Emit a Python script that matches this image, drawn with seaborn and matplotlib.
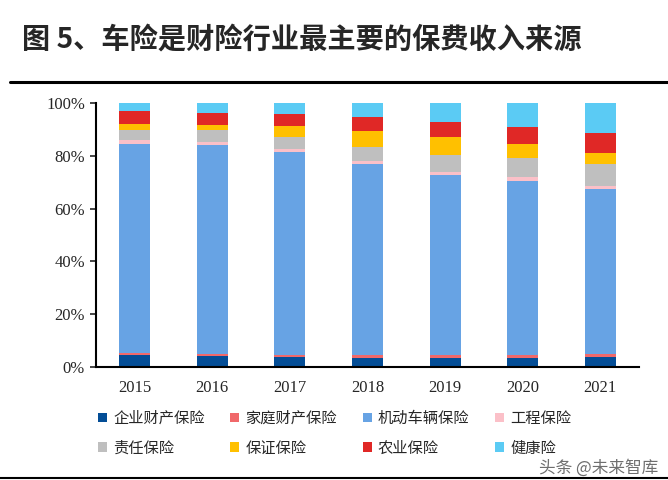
import numpy as np
import pandas as pd
import seaborn as sns
import matplotlib.pyplot as plt
from matplotlib.patches import Patch
from matplotlib.lines import Line2D

# 各险种保费收入占比 (%)
years = ["2015", "2016", "2017", "2018", "2019", "2020", "2021"]
qiye = [4.5, 4.2, 3.8, 3.5, 3.4, 3.5, 3.9]
jiating = [0.8, 0.6, 0.6, 0.9, 1.0, 0.9, 0.9]
jidongche = [79.3, 79.4, 76.9, 72.5, 68.4, 66.1, 62.6]
gongcheng = [1.3, 1.1, 1.1, 1.1, 1.1, 1.3, 1.1]
zeren = [3.8, 4.3, 4.7, 5.4, 6.3, 7.2, 8.3]
baozheng = [2.5, 2.1, 4.1, 5.9, 7.1, 5.5, 4.2]
nongye = [4.8, 4.5, 4.8, 5.3, 5.5, 6.4, 7.7]
jiankang = [3.0, 3.8, 4.0, 5.4, 7.2, 9.1, 11.3]

names = ["企业财产保险", "家庭财产保险", "机动车辆保险", "工程保险",
         "责任保险", "保证保险", "农业保险", "健康险"]
colors = ["#034d96", "#f0686a", "#67a3e4", "#fbc0c8",
          "#bfbfbf", "#ffc000", "#e02826", "#5bcbf4"]

df = pd.DataFrame(dict(zip(names, [qiye, jiating, jidongche, gongcheng,
                                   zeren, baozheng, nongye, jiankang])),
                  index=years)
df = df.div(df.sum(axis=1), axis=0)
cum = df.cumsum(axis=1)

sns.set_style("white")
plt.rcParams['font.family'] = ['Noto Sans CJK SC', 'DejaVu Sans']

fig = plt.figure(figsize=(6.68, 4.8), dpi=100)
ax = fig.add_axes([96 / 668, 1 - 367 / 480, 543 / 668, 264 / 480])

# 叠加柱：从累计最高的系列开始往下画
for name, c in reversed(list(zip(names, colors))):
    sns.barplot(x=years, y=cum[name].values, color=c, width=0.4,
                edgecolor="none", saturation=1, ax=ax)

ax.set_ylim(0, 1)
ax.set_xlim(-0.5, 6.5)
ax.set_yticks(np.arange(0, 1.01, 0.2))
ax.set_yticklabels([f"{int(v * 100)}%" for v in np.arange(0, 1.01, 0.2)])
for lab in ax.get_xticklabels() + ax.get_yticklabels():
    lab.set_family(["Liberation Serif"])
    lab.set_fontsize(12)
ax.tick_params(axis="y", length=4, width=1.2, direction="out", left=True, pad=4)
ax.tick_params(axis="x", length=0, pad=9)
for s in ["top", "right"]:
    ax.spines[s].set_visible(False)
for s in ["left", "bottom"]:
    ax.spines[s].set_color("black")
    ax.spines[s].set_linewidth(1.5)
ax.set_xlabel("")
ax.set_ylabel("")

# 标题与横线
fig.text(22 / 668, 1 - 40 / 480, "图 5、车险是财险行业最主要的保费收入来源",
         fontsize=20.3, fontweight="bold", va="center", ha="left")
fig.add_artist(Line2D([10 / 668, 1], [1 - 82 / 480] * 2, color="black", lw=2.2))
fig.add_artist(Line2D([0, 1], [1 - 478 / 480] * 2, color="black", lw=1.5))

# 图例：按行排列
order = [0, 4, 1, 5, 2, 6, 3, 7]
handles = [Patch(facecolor=colors[i], edgecolor="none") for i in order]
labels = [names[i] for i in order]
fig.legend(handles, labels, ncol=4, loc="upper left",
           bbox_to_anchor=(84 / 668, 1 - 396 / 480), frameon=False,
           fontsize=11, handlelength=0.6, handleheight=0.6,
           handletextpad=0.4, columnspacing=1.68, labelspacing=0.85)

fig.text(658 / 668, 1 - 468 / 480, "头条 @未来智库", fontsize=12,
         color="#555555", ha="right", va="center", alpha=0.85)

plt.savefig("out.png", dpi=100)
